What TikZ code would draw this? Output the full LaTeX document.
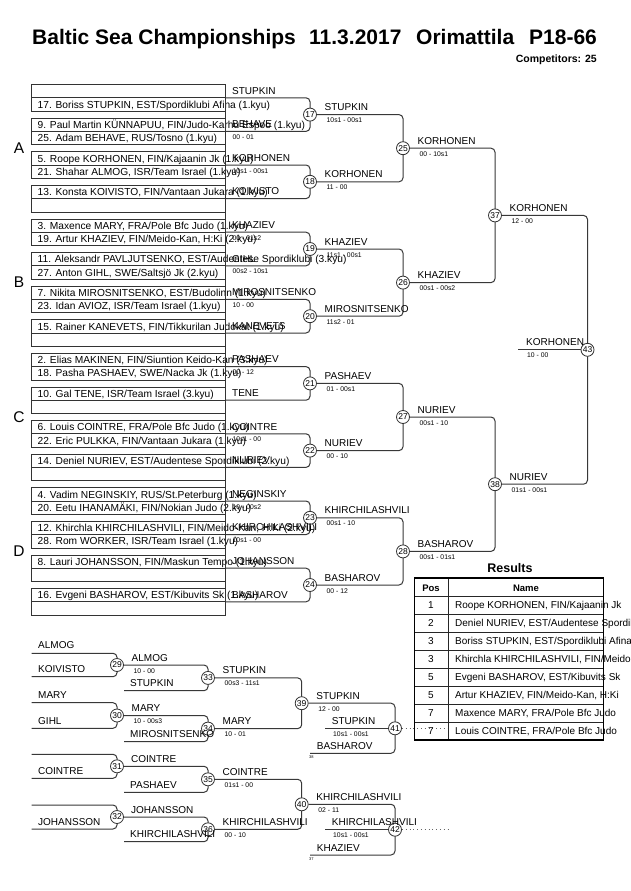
\documentclass[tikz,border=0pt]{standalone}
\usepackage{fontspec}
\setmainfont{Liberation Sans}
\usetikzlibrary{backgrounds}
\newcommand{\myfs}[1]{\fontsize{#1}{#1}\selectfont}
\begin{document}
\begin{tikzpicture}[x=1pt,y=-1pt,
  brk/.style={draw=black!78, line width=1pt, rounded corners=4pt},
  boxline/.style={draw=black!80, line width=0.8pt},
  mnum/.style={circle, draw=black!80, line width=0.8pt, fill=white, inner sep=0pt, minimum size=13pt, font=\myfs{8.5}},
  ename/.style={anchor=base west, inner sep=0pt, font=\myfs{10.2}},
  wname/.style={anchor=base west, inner sep=0pt, font=\myfs{10}},
  wscore/.style={anchor=base west, inner sep=0pt, font=\myfs{6.8}},
  tinytxt/.style={anchor=base west, inner sep=0pt, font=\myfs{4}},
  ttl/.style={anchor=base west, inner sep=0pt, font=\bfseries\myfs{21}},
  pool/.style={anchor=center, inner sep=0pt, font=\myfs{15.5}},
  dots/.style={draw=black!60, line width=0.6pt, dash pattern=on 0.8pt off 3pt},
  tabtxt/.style={inner sep=0pt, font=\myfs{10}},
  tabhead/.style={inner sep=0pt, anchor=base, font=\bfseries\myfs{9.5}},
]
\begin{pgfonlayer}{background}
\fill[white] (0,0) rectangle (630,891);
\end{pgfonlayer}
\useasboundingbox (0,0) rectangle (630,891);

\newcommand{\entrygrp}[3]{%
  \pgfmathsetmacro{\gy}{84.5+33.6*#1}%
  \draw[boxline] (31.5,\gy) rectangle (225,\gy+13.3);
  \draw[boxline] (31.5,\gy+13.3) rectangle (225,\gy+26.6);
  \node[ename] (e#1a) at (37.5,\gy+10.3) {#2};
  \node[ename] (e#1b) at (37.5,\gy+23.6) {#3};
  \coordinate (q#1) at (225,\gy+13.3);
}
\newcommand{\rzlab}[2]{%
  \pgfmathsetmacro{\ly}{97.8+33.6*#1}%
  \node[wname] (z#1n) at (232,\ly-3.8) {#2};
}
\newcommand{\rzsc}[2]{%
  \pgfmathsetmacro{\ly}{97.8+33.6*#1}%
  \node[wscore] (z#1s) at (232.5,\ly+8) {#2};
}
\newcommand{\mlab}[3]{%
  \node[wname] (#1n) at ([xshift=14.5pt,yshift=4pt]#1.center) {#2};
  \node[wscore] (#1s) at ([xshift=16.5pt,yshift=-8pt]#1.center) {#3};
}
\newcommand{\mlabn}[2]{%
  \node[wname] (#1n) at ([xshift=14pt,yshift=4pt]#1.center) {#2};
}

% ---- title
\node[ttl] (t1) at (32,45) {Baltic Sea Championships};
\node[ttl] (t2) at (309,45) {11.3.2017};
\node[ttl] (t3) at (416,45) {Orimattila};
\node[ttl] (t4) at (529,45) {P18-66};
\node[anchor=base east, inner sep=0pt, font=\bfseries\myfs{10.5}] (comp) at (597,63) {Competitors: 25};

% ---- pool letters
\node[pool] (pA) at (19,147.9) {A};
\node[pool] (pB) at (19,282.3) {B};
\node[pool] (pC) at (19,416.7) {C};
\node[pool] (pD) at (19,551.1) {D};

% ---- entry boxes
\entrygrp{0}{}{17. Boriss STUPKIN, EST/Spordiklubi Afina (1.kyu)}
\entrygrp{1}{9. Paul Martin KÜNNAPUU, FIN/Judo-Karhu Espoo (1.kyu)}{25. Adam BEHAVE, RUS/Tosno (1.kyu)}
\entrygrp{2}{5. Roope KORHONEN, FIN/Kajaanin Jk (1.kyu)}{21. Shahar ALMOG, ISR/Team Israel (1.kyu)}
\entrygrp{3}{13. Konsta KOIVISTO, FIN/Vantaan Jukara (1.kyu)}{}
\entrygrp{4}{3. Maxence MARY, FRA/Pole Bfc Judo (1.kyu)}{19. Artur KHAZIEV, FIN/Meido-Kan, H:Ki (2.kyu)}
\entrygrp{5}{11. Aleksandr PAVLJUTSENKO, EST/Audentese Spordiklubi (3.kyu)}{27. Anton GIHL, SWE/Saltsjö Jk (2.kyu)}
\entrygrp{6}{7. Nikita MIROSNITSENKO, EST/Budolinn (1.kyu)}{23. Idan AVIOZ, ISR/Team Israel (1.kyu)}
\entrygrp{7}{15. Rainer KANEVETS, FIN/Tikkurilan Judokat (1.kyu)}{}
\entrygrp{8}{2. Elias MAKINEN, FIN/Siuntion Keido-Kan (3.kyu)}{18. Pasha PASHAEV, SWE/Nacka Jk (1.kyu)}
\entrygrp{9}{10. Gal TENE, ISR/Team Israel (3.kyu)}{}
\entrygrp{10}{6. Louis COINTRE, FRA/Pole Bfc Judo (1.kyu)}{22. Eric PULKKA, FIN/Vantaan Jukara (1.kyu)}
\entrygrp{11}{14. Deniel NURIEV, EST/Audentese Spordiklubi (2.kyu)}{}
\entrygrp{12}{4. Vadim NEGINSKIY, RUS/St.Peterburg (1.kyu)}{20. Eetu IHANAMÄKI, FIN/Nokian Judo (2.kyu)}
\entrygrp{13}{12. Khirchla KHIRCHILASHVILI, FIN/Meido-Kan, H:Ki (2.kyu)}{28. Rom WORKER, ISR/Team Israel (1.kyu)}
\entrygrp{14}{8. Lauri JOHANSSON, FIN/Maskun Tempo (1.kyu)}{}
\entrygrp{15}{16. Evgeni BASHAROV, EST/Kibuvits Sk (1.kyu)}{}
\draw[boxline] (225,84.5) -- (225,615.1);

% ---- main bracket circles
\node[mnum] (m17) at (310,114.6) {17};
\node[mnum] (m18) at (310,181.8) {18};
\node[mnum] (m19) at (310,249.0) {19};
\node[mnum] (m20) at (310,316.2) {20};
\node[mnum] (m21) at (310,383.4) {21};
\node[mnum] (m22) at (310,450.6) {22};
\node[mnum] (m23) at (310,517.8) {23};
\node[mnum] (m24) at (310,585.0) {24};
\node[mnum] (m25) at (403,148.2) {25};
\node[mnum] (m26) at (403,282.6) {26};
\node[mnum] (m27) at (403,417.0) {27};
\node[mnum] (m28) at (403,551.4) {28};
\node[mnum] (m37) at (495,215.4) {37};
\node[mnum] (m38) at (495,484.2) {38};
\node[mnum] (m43) at (587.5,349.8) {43};
\coordinate (w43) at (518,349.8);

% ---- repechage
\coordinate (a29t) at (31.7,653.3);
\coordinate (a29b) at (31.7,676.7);
\node[mnum] (m29) at (117,665) {29};
\coordinate (b33) at (124,690.7);
\node[mnum] (m33) at (208,677.9) {33};
\coordinate (a30t) at (31.7,702.7);
\coordinate (a30b) at (31.7,728.3);
\node[mnum] (m30) at (117,715.5) {30};
\coordinate (b34) at (124,741.7);
\node[mnum] (m34) at (208,728.6) {34};
\node[mnum] (m39) at (301.7,703.2) {39};
\coordinate (c41m) at (325,728.3);
\coordinate (c41b) at (310,753.3);
\node[mnum] (m41) at (395,728.3) {41};
\coordinate (a31t) at (31.7,754.3);
\coordinate (a31b) at (31.7,778.3);
\node[mnum] (m31) at (117,766.3) {31};
\coordinate (b35) at (124,792.3);
\node[mnum] (m35) at (208,779.3) {35};
\coordinate (a32t) at (31.7,805);
\coordinate (a32b) at (31.7,829);
\node[mnum] (m32) at (117,817) {32};
\coordinate (b36) at (124,841.7);
\node[mnum] (m36) at (208,829.3) {36};
\node[mnum] (m40) at (301.7,804.3) {40};
\coordinate (c42m) at (325,829.7);
\coordinate (c42b) at (310,855);
\node[mnum] (m42) at (395,829.7) {42};
\coordinate (t41) at (448,728.3);
\coordinate (t42) at (448,829.7);

% ---- connectors (behind circles)
\begin{pgfonlayer}{background}
\foreach \k in {0,...,7} {
  \pgfmathtruncatemacro{\ia}{2*\k}
  \pgfmathtruncatemacro{\ib}{2*\k+1}
  \pgfmathtruncatemacro{\num}{17+\k}
  \draw[brk] (q\ia) -- (q\ia -| m\num) -- (q\ib -| m\num) -- (q\ib);
}
\draw[brk] (m17) -- (m17 -| m25) -- (m18 -| m25) -- (m18);
\draw[brk] (m19) -- (m19 -| m26) -- (m20 -| m26) -- (m20);
\draw[brk] (m21) -- (m21 -| m27) -- (m22 -| m27) -- (m22);
\draw[brk] (m23) -- (m23 -| m28) -- (m24 -| m28) -- (m24);
\draw[brk] (m25) -- (m25 -| m37) -- (m26 -| m37) -- (m26);
\draw[brk] (m27) -- (m27 -| m38) -- (m28 -| m38) -- (m28);
\draw[brk] (m37) -- (m37 -| m43) -- (m38 -| m43) -- (m38);
\draw[brk] (w43) -- (m43);
% repechage
\draw[brk] (a29t) -- (a29t -| m29) -- (a29b -| m29) -- (a29b);
\draw[brk] (m29) -- (m29 -| m33) -- (b33 -| m33) -- (b33);
\draw[brk] (a30t) -- (a30t -| m30) -- (a30b -| m30) -- (a30b);
\draw[brk] (m30) -- (m30 -| m34) -- (b34 -| m34) -- (b34);
\draw[brk] (m33) -- (m33 -| m39) -- (m34 -| m39) -- (m34);
\draw[brk] (m39) -- (m39 -| m41) -- (c41b -| m41) -- (c41b);
\draw[brk] (c41m) -- (m41);
\draw[brk] (a31t) -- (a31t -| m31) -- (a31b -| m31) -- (a31b);
\draw[brk] (m31) -- (m31 -| m35) -- (b35 -| m35) -- (b35);
\draw[brk] (a32t) -- (a32t -| m32) -- (a32b -| m32) -- (a32b);
\draw[brk] (m32) -- (m32 -| m36) -- (b36 -| m36) -- (b36);
\draw[brk] (m35) -- (m35 -| m40) -- (m36 -| m40) -- (m36);
\draw[brk] (m40) -- (m40 -| m42) -- (c42b -| m42) -- (c42b);
\draw[brk] (c42m) -- (m42);
\draw[dots] (m41) -- (t41);
\draw[dots] (m42) -- (t42);
\end{pgfonlayer}

% ---- round 0 winners
\rzlab{0}{STUPKIN}
\rzlab{1}{BEHAVE}\rzsc{1}{00 - 01}
\rzlab{2}{KORHONEN}\rzsc{2}{10s1 - 00s1}
\rzlab{3}{KOIVISTO}
\rzlab{4}{KHAZIEV}\rzsc{4}{00 - 01s2}
\rzlab{5}{GIHL}\rzsc{5}{00s2 - 10s1}
\rzlab{6}{MIROSNITSENKO}\rzsc{6}{10 - 00}
\rzlab{7}{KANEVETS}
\rzlab{8}{PASHAEV}\rzsc{8}{00 - 12}
\rzlab{9}{TENE}
\rzlab{10}{COINTRE}\rzsc{10}{10s1 - 00}
\rzlab{11}{NURIEV}
\rzlab{12}{NEGINSKIY}\rzsc{12}{10 - 00s2}
\rzlab{13}{KHIRCHILASHVILI}\rzsc{13}{10s1 - 00}
\rzlab{14}{JOHANSSON}
\rzlab{15}{BASHAROV}

% ---- main bracket labels
\mlab{m17}{STUPKIN}{10s1 - 00s1}
\mlab{m18}{KORHONEN}{11 - 00}
\mlab{m19}{KHAZIEV}{11s1 - 00s1}
\mlab{m20}{MIROSNITSENKO}{11s2 - 01}
\mlab{m21}{PASHAEV}{01 - 00s1}
\mlab{m22}{NURIEV}{00 - 10}
\mlab{m23}{KHIRCHILASHVILI}{00s1 - 10}
\mlab{m24}{BASHAROV}{00 - 12}
\mlab{m25}{KORHONEN}{00 - 10s1}
\mlab{m26}{KHAZIEV}{00s1 - 00s2}
\mlab{m27}{NURIEV}{00s1 - 10}
\mlab{m28}{BASHAROV}{00s1 - 01s1}
\mlab{m37}{KORHONEN}{12 - 00}
\mlab{m38}{NURIEV}{01s1 - 00s1}
\node[wname] (fin) at (526,345.8) {KORHONEN};
\node[wscore] (fins) at (527,357.8) {10 - 00};

% ---- repechage labels
\node[wname] (ra29) at (38,648.8) {ALMOG};
\node[wname] (rb29) at (38,672.7) {KOIVISTO};
\node[wname] (ra30) at (38,698.7) {MARY};
\node[wname] (rb30) at (38,724.3) {GIHL};
\node[wname] (rb31) at (38,774.3) {COINTRE};
\node[wname] (rb32) at (38,825) {JOHANSSON};
\mlab{m29}{ALMOG}{10 - 00}
\mlab{m30}{MARY}{10 - 00s3}
\mlabn{m31}{COINTRE}
\mlabn{m32}{JOHANSSON}
\node[wname] (rb33) at (130,686.7) {STUPKIN};
\node[wname] (rb34) at (130,737.7) {MIROSNITSENKO};
\node[wname] (rb35) at (130,788.3) {PASHAEV};
\node[wname] (rb36) at (130,837.7) {KHIRCHILASHVILI};
\mlab{m33}{STUPKIN}{00s3 - 11s1}
\mlab{m34}{MARY}{10 - 01}
\mlab{m35}{COINTRE}{01s1 - 00}
\mlab{m36}{KHIRCHILASHVILI}{00 - 10}
\mlab{m39}{STUPKIN}{12 - 00}
\mlab{m40}{KHIRCHILASHVILI}{02 - 11}
\node[wname] (rm41) at (331.7,724.3) {STUPKIN};
\node[wscore] (rm41s) at (333,736.3) {10s1 - 00s1};
\node[wname] (rb41) at (316.7,749.3) {BASHAROV};
\node[tinytxt] (rb41t) at (309,758.5) {38};
\node[wname] (rm42) at (331.7,825.7) {KHIRCHILASHVILI};
\node[wscore] (rm42s) at (333,837.7) {10s1 - 00s1};
\node[wname] (rb42) at (316.7,851) {KHAZIEV};
\node[tinytxt] (rb42t) at (309,860) {37};

% ---- results table
\node[anchor=base, inner sep=0pt, font=\bfseries\myfs{12.5}] (restitle) at (510,572) {Results};
\node[tabhead] (hpos) at (431,591) {Pos};
\node[tabhead] (hname) at (526,591) {Name};
\node[tabtxt, anchor=base] (pos0) at (431,608.7) {1};
\node[tabtxt, anchor=base] (pos1) at (431,626.7) {2};
\node[tabtxt, anchor=base] (pos2) at (431,644.7) {3};
\node[tabtxt, anchor=base] (pos3) at (431,662.7) {3};
\node[tabtxt, anchor=base] (pos4) at (431,680.7) {5};
\node[tabtxt, anchor=base] (pos5) at (431,698.7) {5};
\node[tabtxt, anchor=base] (pos6) at (431,716.7) {7};
\node[tabtxt, anchor=base] (pos7) at (431,734.7) {7};
\node[tabtxt, anchor=base west] (res0) at (455,608.7) {Roope KORHONEN, FIN/Kajaanin Jk};
\node[tabtxt, anchor=base west] (res1) at (455,626.7) {Deniel NURIEV, EST/Audentese Spordiklubi};
\node[tabtxt, anchor=base west] (res2) at (455,644.7) {Boriss STUPKIN, EST/Spordiklubi Afina};
\node[tabtxt, anchor=base west] (res3) at (455,662.7) {Khirchla KHIRCHILASHVILI, FIN/Meido-Kan, H:Ki};
\node[tabtxt, anchor=base west] (res4) at (455,680.7) {Evgeni BASHAROV, EST/Kibuvits Sk};
\node[tabtxt, anchor=base west] (res5) at (455,698.7) {Artur KHAZIEV, FIN/Meido-Kan, H:Ki};
\node[tabtxt, anchor=base west] (res6) at (455,716.7) {Maxence MARY, FRA/Pole Bfc Judo};
\node[tabtxt, anchor=base west] (res7) at (455,734.7) {Louis COINTRE, FRA/Pole Bfc Judo};
\foreach \k in {0,...,7} {
  \draw[line width=0.8pt, black!85] (414.5,596+18*\k) -- (603.5,596+18*\k);
}
\draw[line width=0.8pt, black!85] (448,578) -- (448,740);
\draw[line width=1.8pt] (414.5,578) rectangle (603.5,740);
\end{tikzpicture}
\end{document}
